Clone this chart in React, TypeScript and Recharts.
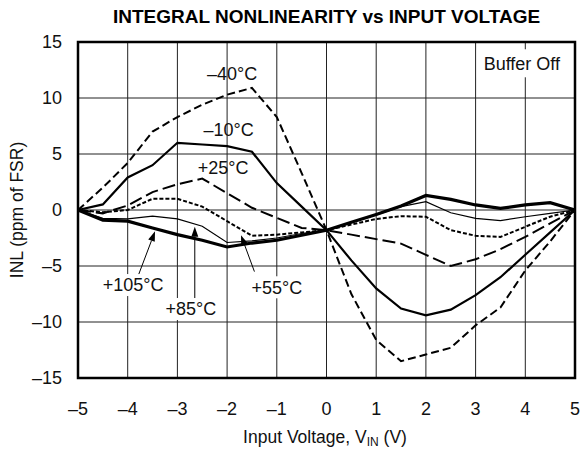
import { LineChart, Line, XAxis, YAxis, CartesianGrid, ReferenceDot, ReferenceLine, ReferenceArea } from 'recharts'

// input voltage (V)
const vin = [-5, -4.5, -4, -3.5, -3, -2.5, -2, -1.5, -1, -0.5, 0, 0.5, 1, 1.5, 2, 2.5, 3, 3.5, 4, 4.5, 5]

// INL (ppm of FSR) per temperature
const inlM40 = [0, 2.0, 4.2, 7.0, 8.3, 9.4, 10.3, 10.9, 8.3, 3.3, -1.8, -7.5, -11.6, -13.5, -12.9, -12.3, -10.3, -8.7, -5.4, -2.8, 0]
const inlM10 = [0, 0.5, 2.9, 4.0, 6.0, 5.85, 5.7, 5.2, 2.4, 0.3, -1.8, -4.5, -7.0, -8.8, -9.4, -8.9, -7.6, -6.0, -4.0, -2.0, 0]
const inlP25 = [0, -0.3, 0.4, 1.6, 2.3, 2.8, 1.5, 0.2, -0.7, -1.6, -1.8, -2.2, -2.6, -3.0, -4.0, -5.0, -4.4, -3.5, -2.4, -1.2, 0]
const inlP55 = [0, -0.2, 0.0, 1.0, 1.0, 0.3, -1.0, -2.3, -2.2, -2.0, -1.8, -1.3, -0.8, -0.55, -0.6, -1.8, -2.3, -2.4, -1.5, -0.6, 0]
const inlP85 = [0, -0.75, -0.8, -0.55, -0.8, -1.45, -2.9, -2.75, -2.5, -2.1, -1.8, -1.1, -0.45, 0.3, 0.75, -0.25, -0.75, -0.95, -0.6, -0.3, 0]
const inlP105 = [0, -0.9, -1.0, -1.6, -2.2, -2.7, -3.3, -2.95, -2.7, -2.25, -1.8, -1.1, -0.4, 0.35, 1.3, 0.95, 0.45, 0.15, 0.45, 0.65, 0]

const xTicks = [-5, -4, -3, -2, -1, 0, 1, 2, 3, 4, 5]
const yTicks = [-15, -10, -5, 0, 5, 10, 15]

const data = vin.map((v, i) => ({
  vin: v,
  m40: inlM40[i],
  m10: inlM10[i],
  p25: inlP25[i],
  p55: inlP55[i],
  p85: inlP85[i],
  p105: inlP105[i],
}))

const font = '"Liberation Sans", Arial, Helvetica, sans-serif'
const fmt = (v: number) => String(v).replace('-', '\u2013')

// temperature labels; boxed ones knock out the grid behind them
const notes = [
  { x: -1.9, y: 12.2, text: '\u201340\u00b0C', box: false },
  { x: -1.97, y: 7.2, text: '\u201310\u00b0C', box: false },
  { x: -2.08, y: 3.75, text: '+25\u00b0C', box: false },
  { x: -3.89, y: -6.7, text: '+105\u00b0C', box: true },
  { x: -2.73, y: -8.84, text: '+85\u00b0C', box: true },
  { x: -1.0, y: -6.9, text: '+55\u00b0C', box: true },
]

const arrows = [
  { from: { x: -3.8, y: -6.0 }, to: { x: -3.45, y: -1.9 } },
  { from: { x: -2.65, y: -8.0 }, to: { x: -2.65, y: -1.5 } },
  { from: { x: -1.45, y: -5.5 }, to: { x: -1.72, y: -2.25 } },
]

const arrowShape = (p: any) => {
  const { x1, y1, x2, y2 } = p
  const a = Math.atan2(y2 - y1, x2 - x1)
  const L = 10
  const W = 3.5
  const bx = x2 - L * Math.cos(a)
  const by = y2 - L * Math.sin(a)
  const pts = `${x2},${y2} ${bx - W * Math.sin(a)},${by + W * Math.cos(a)} ${bx + W * Math.sin(a)},${by - W * Math.cos(a)}`
  return (
    <g>
      <line x1={x1} y1={y1} x2={bx} y2={by} stroke="#000" strokeWidth={1} />
      <polygon points={pts} fill="#000" />
    </g>
  )
}

export default function App() {
  return (
    <div style={{ position: 'absolute', left: 0, top: 0, width: 581, height: 454, background: '#fff', fontFamily: font }}>
      <div style={{ position: 'absolute', left: 0, width: 653, top: 6, textAlign: 'center', fontWeight: 'bold', fontSize: 19, lineHeight: '22px', color: '#000' }}>
        INTEGRAL NONLINEARITY vs INPUT VOLTAGE
      </div>
      <LineChart width={581} height={454} data={data} margin={{ top: 42, right: 6, bottom: 36, left: 8 }}>
        <CartesianGrid stroke="#222" strokeWidth={1} />
        <XAxis
          dataKey="vin"
          type="number"
          domain={[-5, 5]}
          ticks={xTicks}
          tickFormatter={fmt}
          axisLine={false}
          tickLine={false}
          tickSize={0}
          tickMargin={24}
          height={40}
          tick={{ fontSize: 18, fill: '#111', fontFamily: font }}
        />
        <YAxis
          type="number"
          domain={[-15, 15]}
          ticks={yTicks}
          tickFormatter={fmt}
          axisLine={false}
          tickLine={false}
          tickSize={0}
          tickMargin={16}
          width={70}
          tick={{ fontSize: 18, fill: '#111', fontFamily: font }}
        />
        <ReferenceArea x1={-5} x2={5} y1={-15} y2={15} fill="none" fillOpacity={0} stroke="#000" strokeWidth={2.5} />
        <Line dataKey="m40" type="linear" stroke="#000" strokeWidth={2} strokeDasharray="8 4" dot={false} isAnimationActive={false} />
        <Line dataKey="m10" type="linear" stroke="#000" strokeWidth={2.2} dot={false} isAnimationActive={false} />
        <Line dataKey="p25" type="linear" stroke="#000" strokeWidth={2} strokeDasharray="13 5" dot={false} isAnimationActive={false} />
        <Line dataKey="p55" type="linear" stroke="#000" strokeWidth={2} strokeDasharray="4 2" dot={false} isAnimationActive={false} />
        <Line dataKey="p85" type="linear" stroke="#000" strokeWidth={1.2} dot={false} isAnimationActive={false} />
        <Line dataKey="p105" type="linear" stroke="#000" strokeWidth={3.2} dot={false} isAnimationActive={false} />
        {notes.map((n) => (
          <ReferenceDot
            key={n.text}
            x={n.x}
            y={n.y}
            r={0}
            shape={(p: any) => (
              <g>
                {n.box && <rect x={p.cx - 33} y={p.cy - 11} width={66} height={22} fill="#fff" />}
                <text x={p.cx} y={p.cy} dy="0.35em" textAnchor="middle" fontSize={18} fill="#111" fontFamily={font}>
                  {n.text}
                </text>
              </g>
            )}
          />
        ))}
        {arrows.map((a, i) => (
          <ReferenceLine key={`ar-${i}`} segment={[a.from, a.to]} shape={arrowShape} />
        ))}
        <ReferenceDot
          x={3.93}
          y={13.1}
          r={0}
          shape={(p: any) => (
            <g>
              <rect x={p.cx - 45} y={p.cy - 14} width={90} height={28} fill="#fff" />
              <text x={p.cx} y={p.cy} dy="0.35em" textAnchor="middle" fontSize={18} fill="#111" fontFamily={font}>
                Buffer Off
              </text>
            </g>
          )}
        />
      </LineChart>
      <div style={{ position: 'absolute', left: 0, width: 650, top: 426, textAlign: 'center', fontSize: 17.5, lineHeight: '22px', color: '#111' }}>
        Input Voltage, V<sub style={{ fontSize: 12, verticalAlign: '-3px', lineHeight: 0 }}>IN</sub> (V)
      </div>
      <div
        style={{
          position: 'absolute',
          left: 17,
          top: 210,
          transform: 'translate(-50%, -50%) rotate(-90deg)',
          whiteSpace: 'nowrap',
          fontSize: 17.5,
          lineHeight: '20px',
          color: '#111',
        }}
      >
        INL (ppm of FSR)
      </div>
    </div>
  )
}
